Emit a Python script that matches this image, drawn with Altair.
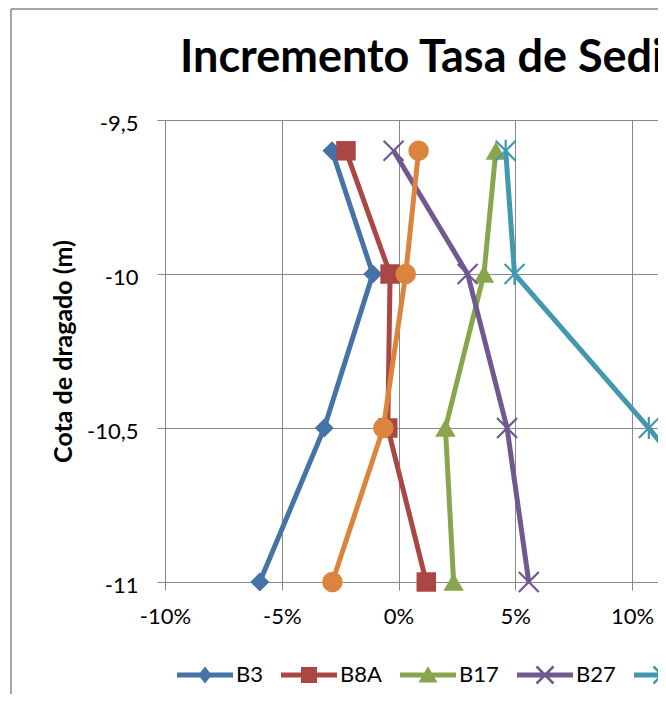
import math
import altair as alt
import pandas as pd

# ---------------- data ----------------
cota = [-9.6, -10.0, -10.5, -11.0]
series = ["B3", "B8A", "B17", "B27", "B30", "B35"]
b3 = [-2.85, -1.10, -3.18, -5.94]
b8a = [-2.25, -0.36, -0.46, 1.19]
b17 = [4.17, 3.66, 2.01, 2.36]
b27 = [-0.21, 2.96, 4.65, 5.58]
b30 = [4.59, 4.97, 10.72, 16.0]
b35 = [0.86, 0.31, -0.65, -2.83]
values = [b3, b8a, b17, b27, b30, b35]
x_ticks = [-10, -5, 0, 5, 10]
y_ticks = [-11.0, -10.5, -10.0, -9.5]
title_text = "Incremento Tasa de Sedimentación"
y_title = "Cota de dragado (m)"

# ---------------- styles ----------------
colors = ["#4572A7", "#AA4643", "#89A54E", "#71588F", "#4198AF", "#DB843D"]
GRID = "#888888"
FONT = "Lato"
VIEW_W = 493
VIEW_H = 462
X_DOMAIN = [-10, -10 + VIEW_W / 23.35]
Y_DOMAIN = [-11.0, -9.5]

rows = []
for s, vals in zip(series, values):
    for i, (c, v) in enumerate(zip(cota, vals)):
        rows.append({"series": s, "cota": c, "pct": v, "idx": i})
df = pd.DataFrame(rows)


def poly(pts):
    return "M" + "L".join(f"{x:.3f},{y:.3f}" for x, y in pts) + "Z"


def bar(angle_deg, a, t):
    ang = math.radians(angle_deg)
    c, s = math.cos(ang), math.sin(ang)
    pts = [(-a, -t), (a, -t), (a, t), (-a, t)]
    return poly([(x * c - y * s, x * s + y * c) for x, y in pts])


# plot markers
X_PATH = "M-1,-1L1,1M-1,1L1,-1"
STAR_PATH = "M-1,-1L1,1M-1,1L1,-1M0,-1.1L0,1.1"
plot_shapes = ["diamond", "square", "triangle-up", X_PATH, STAR_PATH, "circle"]
plot_sizes = [361, 380, 420, 400, 400, 420]
plot_filled = [True, True, True, False, False, True]

# legend symbols: line + marker as one path (unit = 8 px)
LINE = bar(0, 3.5, 0.31)
legend_paths = [
    LINE + poly([(0, -1.05), (0.85, 0), (0, 1.05), (-0.85, 0)]),
    LINE + poly([(-1, -1), (1, -1), (1, 1), (-1, 1)]),
    LINE + poly([(0, -1.1), (1.2, 0.95), (-1.2, 0.95)]),
    LINE + bar(45, 1.5, 0.16) + bar(-45, 1.5, 0.16),
    LINE + bar(45, 1.5, 0.16) + bar(-45, 1.5, 0.16) + bar(90, 1.3, 0.16),
    LINE + "M1.2,0A1.2,1.2 0 1,1 -1.2,0A1.2,1.2 0 1,1 1.2,0Z",
]

xscale = alt.Scale(domain=X_DOMAIN, nice=False, zero=False)
yscale = alt.Scale(domain=Y_DOMAIN, nice=False, zero=False)

xaxis = alt.Axis(
    values=x_ticks, labelExpr="datum.value + '%'", grid=True, gridColor=GRID,
    gridWidth=1, domainColor=GRID, domainWidth=1, tickColor=GRID, tickSize=8,
    tickWidth=1, labelFont=FONT, labelFontSize=22, labelColor="black",
    labelPadding=16, title=None, labelFlush=False, labelOverlap=False,
)
yaxis = alt.Axis(
    values=y_ticks, labelExpr="replace(datum.value + '', '.', ',')", grid=True,
    gridColor=GRID, gridWidth=1, domainColor=GRID, domainWidth=1, tickColor=GRID,
    tickSize=8, tickWidth=1, labelFont=FONT, labelFontSize=22, labelColor="black",
    labelPadding=19, labelOffset=3, labelFlush=False, labelOverlap=False,
    title=y_title, titleFont=FONT, titleFontSize=25, titleFontWeight="bold",
    titleColor="black", titleX=-102, titleY=231, titleAngle=270,
    titleAlign="center", titleBaseline="middle",
)
x_enc = alt.X("pct:Q", scale=xscale, axis=xaxis)
y_enc = alt.Y("cota:Q", scale=yscale, axis=yaxis)

layers = []
border_df = pd.DataFrame({"k": [0]})
layers.append(
    alt.Chart(border_df).mark_rule(color=GRID, strokeWidth=1.5).encode(
        x=alt.value(-154), y=alt.value(-111), y2=alt.value(700)
    )
)
layers.append(
    alt.Chart(border_df).mark_rule(color=GRID, strokeWidth=1.5).encode(
        x=alt.value(-154), x2=alt.value(600), y=alt.value(-111)
    )
)

for s, col, shp, sz, filled in zip(series, colors, plot_shapes, plot_sizes, plot_filled):
    base = alt.Chart(df).transform_filter(alt.datum.series == s)
    line = base.mark_line(color=col, strokeWidth=5, clip=True).encode(
        x=x_enc, y=y_enc, order=alt.Order("idx:Q")
    )
    if filled:
        pt = base.mark_point(shape=shp, size=sz, filled=True, color=col, opacity=1)
    else:
        pt = base.mark_point(shape=shp, size=sz, filled=False, color=col,
                             strokeWidth=2.2, opacity=1)
    pt = pt.transform_filter(alt.datum.pct <= X_DOMAIN[1]).encode(x=x_enc, y=y_enc)
    layers += [line, pt]

leg = alt.Legend(
    orient="none", legendX=29, legendY=544, direction="horizontal",
    gridAlign="none",
    title=None, labelFont=FONT, labelFontSize=22, labelColor="black",
    symbolSize=256, symbolStrokeWidth=0, labelOffset=20, columnPadding=18,
    padding=0, symbolOpacity=1, labelLimit=0,
)
legend_layer = alt.Chart(df).transform_filter("datum.pct > 1000").mark_point(
    filled=True, opacity=1, strokeWidth=0
).encode(
    x=x_enc, y=y_enc,
    color=alt.Color("series:N", scale=alt.Scale(domain=series, range=colors), legend=leg),
    shape=alt.Shape("series:N", scale=alt.Scale(domain=series, range=legend_paths), legend=leg),
)
layers.append(legend_layer)

chart = alt.layer(*layers).properties(
    width=VIEW_W,
    height=VIEW_H,
    title=alt.TitleParams(
        title_text, font=FONT, fontSize=45, fontWeight="bold", color="black",
        anchor="start", frame="group", dx=15, dy=73, offset=0,
    ),
    autosize=alt.AutoSizeParams(type="none"),
    padding={"left": 157, "top": 112, "right": 0, "bottom": 112},
    background="white",
).configure_view(stroke=None)

chart.save("out.html", embed_options={"renderer": "svg", "actions": False})
